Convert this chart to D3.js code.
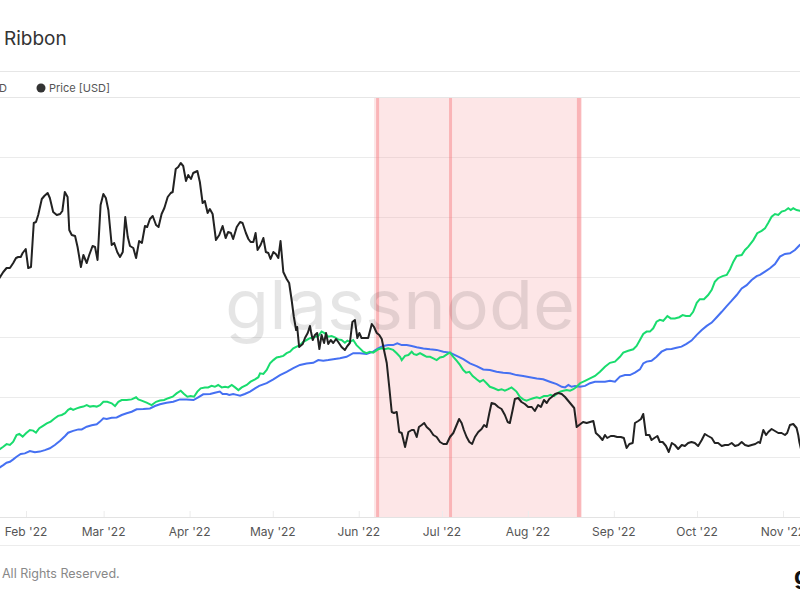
<!DOCTYPE html>
<html><head><meta charset="utf-8">
<script src="https://cdn.jsdelivr.net/npm/d3@7"></script>
<style>body{margin:0;background:#fff;}svg{display:block;font-family:Inter,"Open Sans",sans-serif;}</style>
</head><body><svg id="c" width="800" height="600"></svg>
<script>
// day offsets are days since 2022-01-22 (UTC)
const startDate = "2022-01-22";
const monthTicks = ["2022-02-01","2022-03-01","2022-04-01","2022-05-01","2022-06-01","2022-07-01","2022-08-01","2022-09-01","2022-10-01","2022-11-01"];
const hashGrid = [180,200,220,240,260,280];
// Price [USD]
const priceDays = [0,1.8,3.0,4.2,5.4,6.4,7.2,8.1,8.8,9.9,10.8,11.8,12.8,13.6,14.4,15.7,16.6,17.8,18.6,19.8,21.1,22.3,23.1,24.0,25.0,25.6,26.5,27.7,28.6,29.8,30.7,31.9,32.8,34.0,34.9,35.8,36.9,37.9,38.8,39.7,40.9,41.8,42.9,43.9,44.9,45.8,46.7,47.5,48.7,49.7,50.8,51.8,52.9,53.7,54.7,55.7,56.9,57.8,58.9,59.9,61.1,62.2,62.9,64.0,64.9,65.8,66.7,67.7,68.5,69.5,70.3,71.8,72.7,73.7,74.5,75.5,76.3,77.3,78.5,79.7,80.9,82.0,82.9,83.9,84.7,86.0,87.2,88.1,89.3,90.2,91.0,92.0,92.8,93.5,94.6,95.6,96.5,97.4,98.2,99.2,100.1,101.0,101.8,102.8,104.0,104.9,105.8,106.6,107.4,107.8,108.5,109.8,110.6,111.6,112.4,112.8,113.4,114.2,115.0,115.8,116.6,117.5,118.2,119.0,119.9,120.8,121.8,122.6,123.8,125.0,125.9,126.8,127.7,128.6,129.5,130.2,131.0,132.2,133.4,134.7,135.5,136.5,137.4,138.3,139.1,140.1,141.0,141.9,142.7,143.7,144.6,145.5,146.7,147.9,149.1,149.9,150.9,151.7,152.7,153.6,154.5,155.7,156.9,158.1,159.3,160.5,161.7,162.9,164.1,165.3,166.2,167.1,167.9,168.9,169.9,170.9,171.9,173.1,174.3,175.2,176.1,177.1,177.9,179.1,180.3,181.5,182.7,183.7,184.5,185.5,186.3,187.5,188.7,189.9,191.1,192.4,193.5,194.7,195.7,196.8,197.8,198.7,199.6,200.8,202.0,203.2,204.4,205.6,206.8,207.7,208.6,209.5,210.9,212.2,213.4,214.6,215.5,216.7,217.9,218.8,219.6,220.9,222.0,223.2,224.5,225.6,226.6,227.6,228.8,229.6,230.8,231.8,232.6,233.6,234.8,235.6,236.6,237.7,238.6,239.6,240.8,241.8,242.9,244.0,245.2,246.5,247.6,248.8,250.0,251.2,252.4,253.7,254.8,256.0,257.3,258.4,259.6,260.9,262.1,263.3,264.5,265.7,266.9,268.1,269.3,270.5,271.7,273.0,274.1,274.7,275.9,276.9,277.7,278.9,280.1,281.3,282.5,283.7,284.5,285.5,286.7,287.9,288.5,288.9,289.8];
const priceValues = [35800,36600,37000,37000,37500,38000,38100,38100,38500,38900,37000,37100,41500,41600,42300,43900,44200,44500,44000,42600,42300,42400,42700,44600,44100,40800,40300,40200,39100,37100,38300,37500,38300,39200,39100,37800,43300,44400,44000,42800,39300,39500,38600,38100,38600,42100,40100,39200,39000,38000,39700,39500,41200,41100,41900,42200,41300,41100,42400,43000,44100,44500,44600,46900,47100,47500,47200,45700,46300,45900,46500,46700,45600,43500,43700,42500,42900,42400,39800,40300,41200,40000,40600,40500,39900,41100,41600,41500,40500,39900,39600,39600,40500,38800,39300,40000,38600,38500,37900,38600,38400,38000,39700,36600,35900,35500,33800,32100,30800,31100,29100,29400,30000,30500,31200,30600,29800,30300,30500,28900,30300,29500,30500,29400,29800,29500,29900,29600,29100,28800,29200,29500,31600,31800,30000,30500,30000,30000,30000,31400,31100,30500,30300,29900,28800,27500,25100,22600,22500,22600,20600,20500,19100,20600,20800,20800,20100,21100,21300,21500,21100,20800,20300,20100,19600,19400,19400,20100,20500,21300,21900,21500,20800,20100,19600,19400,20100,20600,20900,21300,21100,22500,23500,23400,23100,22900,22300,21600,21500,22800,23900,24000,23600,23400,23100,23100,22700,23300,23100,23800,23500,23900,24100,24400,24500,24400,24100,23700,23300,23000,21100,21300,21600,21500,21600,21700,20500,20200,19800,20300,20000,20200,20200,20100,20100,20000,19000,19400,19500,21500,21700,21900,22400,20300,20300,19800,20000,20200,19600,19600,19200,18600,19500,19300,18900,19300,19200,19500,19600,19500,19200,19800,20400,20200,20000,19500,19500,19200,19300,19300,19500,19200,19300,19600,19300,19200,19300,19400,19600,19500,20800,20300,20600,20900,20700,20500,20500,20300,20500,21300,21400,21000,20300,19600,18500];
// Hash Ribbon: 30d MA (green) and 60d MA (blue), EH/s
const ma30Days = [0,1.8,3.0,4.2,5.4,6.6,7.6,8.8,10.0,11.4,12.6,13.6,14.8,16.0,17.5,18.9,20.4,21.6,22.9,24.1,25.2,26.1,27.0,28.3,29.5,30.7,31.9,33.1,34.3,35.5,36.7,37.9,39.3,40.9,42.1,43.3,44.5,46.3,48.1,49.7,50.5,51.7,53.5,55.3,56.9,58.3,59.8,61.3,62.9,64.3,65.8,67.0,68.2,69.4,70.6,71.8,73.0,74.5,75.7,76.9,78.1,79.3,80.6,81.8,82.9,84.2,85.4,86.6,87.8,89.6,91.0,92.6,93.8,94.4,95.6,96.8,98.0,99.2,100.4,101.6,102.8,104.0,105.2,106.4,107.6,108.8,110.0,111.2,112.4,113.6,115.4,116.6,117.8,119.0,120.2,121.4,122.6,123.8,125.0,125.9,126.8,128.0,129.2,130.4,131.6,132.8,134.0,135.2,137.0,138.3,139.4,140.6,142.4,143.7,144.9,145.5,146.7,147.9,149.1,149.9,150.9,152.1,153.3,154.5,155.7,156.9,158.1,159.3,160.5,161.9,162.9,164.1,165.3,166.5,167.7,168.7,169.9,171.1,172.5,173.7,174.9,176.1,177.3,178.8,180.3,181.5,182.7,183.9,185.1,185.9,186.9,188.1,189.3,190.5,191.7,192.9,194.2,195.3,196.8,198.0,199.2,200.4,201.6,202.6,203.8,205.0,206.2,207.4,208.6,209.8,211.6,213.4,215.2,217.0,218.8,220.6,222.4,224.2,225.4,227.2,229.0,230.2,231.4,232.6,233.8,235.0,236.2,237.4,238.6,239.8,241.3,242.5,244.0,245.6,246.8,248.0,249.4,250.6,251.9,253.0,254.5,256.0,257.3,258.4,259.6,261.2,262.7,263.9,265.1,266.3,268.1,269.3,270.5,272.3,273.7,275.3,276.5,277.7,278.9,280.1,281.3,282.5,283.7,284.9,285.8,286.7,287.9,289.1,290.5];
const ma30Values = [182.3,183.4,184.3,184.0,185.1,187.3,187.7,186.8,187.9,189.0,188.8,188.1,189.6,190.3,191.2,191.8,192.9,193.7,194.0,194.6,195.7,196.2,195.7,196.2,196.6,196.8,197.3,196.8,197.0,196.8,197.3,198.4,198.4,197.9,197.0,198.4,199.0,199.0,199.2,199.9,199.2,198.8,198.1,197.3,198.4,198.8,199.0,199.6,200.1,201.2,202.1,201.0,200.1,200.3,200.1,201.8,202.9,203.2,203.2,203.7,203.4,204.0,203.2,203.4,203.2,204.0,203.2,202.3,203.2,204.0,205.1,205.9,206.6,207.9,207.7,209.0,211.2,212.3,213.2,213.4,213.7,214.6,215.1,216.2,216.8,217.3,218.4,219.0,219.6,219.9,220.3,221.8,221.2,220.1,220.3,219.9,219.2,219.0,218.1,218.8,218.4,219.0,217.3,216.2,215.1,214.6,215.1,214.8,215.9,216.2,215.9,216.2,215.7,214.6,213.4,212.3,213.7,214.0,215.1,214.3,214.0,214.6,214.0,213.4,213.4,212.9,212.3,213.2,213.4,214.3,214.8,213.4,212.1,210.7,209.0,208.1,208.4,207.0,205.9,205.1,205.7,204.6,203.4,202.9,202.3,202.6,202.1,202.6,203.2,202.6,201.8,200.1,199.2,198.8,199.2,199.6,199.9,199.6,200.3,200.3,200.7,200.3,201.2,201.8,202.1,202.3,202.1,202.6,203.4,204.6,205.4,206.2,207.0,208.4,210.1,211.4,211.8,213.4,214.8,215.4,215.9,217.0,219.0,221.0,221.8,221.8,222.9,225.1,225.7,225.4,227.0,226.2,226.2,226.6,227.3,227.0,227.0,228.4,231.4,232.6,232.6,234.0,235.7,238.4,239.6,240.3,240.7,242.6,245.1,247.0,247.3,249.0,250.1,252.3,254.6,255.4,256.2,258.1,260.1,261.0,260.7,261.8,262.1,262.9,262.3,262.9,262.3,262.1,262.0];
const ma60Days = [0,1.8,3.0,4.2,5.4,6.6,8.1,9.6,11.4,13.2,15.0,16.8,18.6,20.4,22.3,24.1,25.2,27.0,28.9,30.1,31.9,33.7,35.5,36.7,37.9,39.1,40.9,42.7,44.5,46.3,48.1,49.9,52.3,54.7,56.5,58.3,60.7,63.1,65.5,67.9,70.4,72.1,73.9,76.4,78.1,79.9,80.9,82.4,83.3,84.7,86.0,87.2,88.9,90.8,92.6,94.1,96.8,99.2,101.6,104.0,106.4,108.8,111.2,113.6,115.4,117.2,119.0,120.8,123.2,125.6,128.0,130.4,132.8,135.2,137.0,138.8,140.6,142.4,143.9,145.5,147.3,149.1,150.9,153.3,155.7,158.1,160.5,162.9,165.3,167.7,170.1,172.5,174.9,177.3,179.7,182.1,184.5,186.9,189.3,191.7,194.2,196.5,198.9,201.4,203.2,204.4,205.6,206.8,208.0,209.8,211.6,213.4,215.2,217.0,218.8,220.6,222.4,224.2,226.0,227.8,229.6,231.4,232.6,233.8,235.6,237.4,239.2,241.0,242.8,244.6,246.4,248.2,250.0,251.9,253.7,255.5,257.3,259.1,260.9,262.7,264.5,266.3,268.1,269.9,271.7,273.5,274.7,276.5,278.3,280.1,281.9,283.7,285.5,287.3,289.1,290.5];
const ma60Values = [176.2,177.3,178.1,178.4,179.2,180.1,181.0,181.2,182.0,181.6,181.8,182.3,182.9,184.0,185.4,187.0,188.1,188.7,189.2,189.2,190.1,190.6,190.9,191.8,192.9,192.7,193.1,193.2,194.0,194.6,195.1,195.9,196.0,196.2,197.0,197.6,198.1,198.4,199.2,199.2,199.0,199.9,200.9,201.0,201.4,201.8,201.0,201.0,200.7,201.0,200.7,200.4,201.0,201.8,202.9,203.7,204.6,205.9,207.3,208.4,209.6,210.7,211.2,211.4,212.3,212.1,212.3,212.6,212.9,213.4,214.6,214.6,214.3,215.1,216.2,217.0,217.3,217.3,217.9,217.3,217.3,217.0,216.6,216.2,215.9,215.7,215.1,214.8,213.7,212.6,211.2,210.3,209.2,209.0,208.4,208.1,207.9,207.3,207.0,206.6,206.2,205.9,205.1,204.3,203.4,203.2,204.0,203.4,203.7,203.4,203.7,204.6,205.1,205.1,205.1,205.4,205.1,206.8,207.3,207.3,208.1,209.2,211.2,211.8,212.1,213.4,215.1,215.9,216.0,216.4,216.8,217.7,218.8,220.7,222.3,223.7,224.8,226.6,228.4,230.3,232.1,234.0,236.2,237.3,239.0,240.3,240.7,241.8,242.9,244.3,246.8,247.7,247.9,249.0,250.7,251.5];
// Miner capitulation band and markers (day offsets)
const capBand = [135.5, 210.5];
const capMarkers = [136.8, 163.1, 209.4];

const svg = d3.select("#c");
const W = 800;
const t0 = Date.UTC(2022,0,22);
const dayToDate = d => new Date(t0 + d*864e5);
const x = d3.scaleUtc().domain([new Date("2022-02-01"), new Date("2022-11-01")]).range([26, 783]);
const yHash = d3.scaleLinear().domain([160, 300]).range([517, 97]);
const yPrice = d3.scaleLinear().domain([0, 63800]).range([638, 0]);

// header
svg.append("text").attr("x",4).attr("y",45).attr("font-size",19).attr("fill","#333").text("Ribbon");
svg.append("line").attr("x1",0).attr("x2",W).attr("y1",71.5).attr("y2",71.5).attr("stroke","#e6e6e6");
svg.append("line").attr("x1",0).attr("x2",W).attr("y1",97.5).attr("y2",97.5).attr("stroke","#e6e6e6");
svg.append("text").attr("x",-1).attr("y",92).attr("font-size",11).attr("fill","#555").text("D");
svg.append("circle").attr("cx",41).attr("cy",88).attr("r",4.5).attr("fill","#333");
svg.append("text").attr("x",49).attr("y",92).attr("font-size",11).attr("fill","#555").text("Price [USD]");

const clip = svg.append("defs").append("clipPath").attr("id","pc");
clip.append("rect").attr("x",0).attr("y",98).attr("width",W).attr("height",419);
const plot = svg.append("g").attr("clip-path","url(#pc)");

// gridlines
plot.selectAll("line.g").data(hashGrid).join("line")
  .attr("x1",0).attr("x2",W).attr("y1",d=>Math.round(yHash(d))+0.5).attr("y2",d=>Math.round(yHash(d))+0.5)
  .attr("stroke","#ebebeb");

// band
plot.append("rect").attr("x",x(dayToDate(capBand[0]))).attr("width",x(dayToDate(capBand[1]))-x(dayToDate(capBand[0])))
  .attr("y",97).attr("height",420).attr("fill","rgba(246,150,155,0.24)");
plot.selectAll("line.m").data(capMarkers).join("line")
  .attr("x1",d=>x(dayToDate(d))).attr("x2",d=>x(dayToDate(d))).attr("y1",97).attr("y2",517)
  .attr("stroke","rgba(246,120,125,0.45)").attr("stroke-width",(d,i)=>i===2?4:3);

// watermark
svg.append("text").attr("x",400).attr("y",329).attr("text-anchor","middle").attr("font-size",68)
  .attr("textLength",350).attr("lengthAdjust","spacingAndGlyphs")
  .attr("fill","rgba(0,0,0,0.1)").attr("font-family","Inter, sans-serif").text("glassnode");

// lines
const mk = (days, vals, y) => d3.line().x((d,i)=>x(dayToDate(days[i]))).y((d,i)=>y(vals[i]))(vals);
plot.append("path").attr("d", mk(ma60Days, ma60Values, yHash)).attr("fill","none").attr("stroke","#4570f2").attr("stroke-width",2);
plot.append("path").attr("d", mk(ma30Days, ma30Values, yHash)).attr("fill","none").attr("stroke","#19dc6e").attr("stroke-width",2);
plot.append("path").attr("d", mk(priceDays, priceValues, yPrice)).attr("fill","none").attr("stroke","#222").attr("stroke-width",2).attr("stroke-linejoin","round");

// x axis
svg.append("line").attr("x1",0).attr("x2",W).attr("y1",517.5).attr("y2",517.5).attr("stroke","#e3e3e3");
const ax = svg.append("g").attr("transform","translate(0,517)")
  .call(d3.axisTop(x).tickValues(monthTicks.map(s=>new Date(s))).tickSize(6).tickFormat(""));
ax.select(".domain").remove();
ax.selectAll(".tick line").attr("stroke","#ececec");
svg.selectAll("text.xl").data(monthTicks).join("text").attr("class","xl")
  .attr("x",d=>x(new Date(d))).attr("y",536).attr("text-anchor","middle").attr("font-size",12).attr("fill","#555")
  .text(d=>d3.utcFormat("%b '%y")(new Date(d)));
svg.append("line").attr("x1",0).attr("x2",W).attr("y1",545.5).attr("y2",545.5).attr("stroke","#ececec");

// footer
svg.append("text").attr("x",2).attr("y",578).attr("font-size",12.5).attr("fill","#888").text("All Rights Reserved.");
svg.append("text").attr("x",794).attr("y",584).attr("font-size",24).attr("font-weight","bold").attr("fill","#111").text("g");
</script></body></html>
